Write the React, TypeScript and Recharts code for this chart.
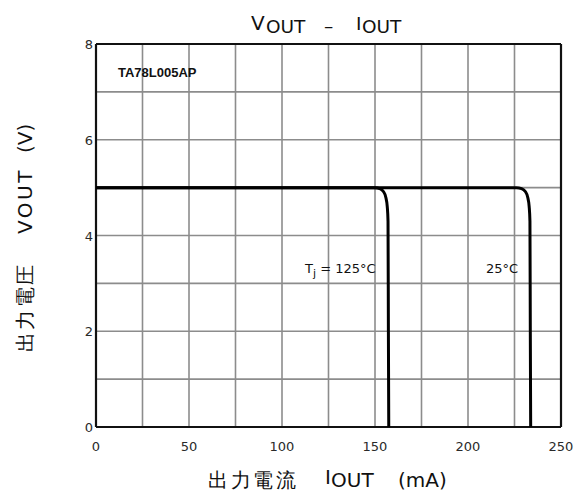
import React from 'react'
import { LineChart, Line, XAxis, YAxis, CartesianGrid, ReferenceLine } from 'recharts'

// Iout (mA) vs Vout (V)
const iout125 = [0, 100, 150, 152.5, 154.5, 155.8, 156.6, 157, 157.2, 157.4]
const vout125 = [5.0, 5.0, 5.0, 4.98, 4.92, 4.8, 4.6, 4.3, 2.0, 0]
const iout25 = [0, 150, 226, 228.8, 230.8, 232.1, 232.9, 233.3, 233.5, 233.7]
const vout25 = [5.0, 5.0, 5.0, 4.98, 4.92, 4.8, 4.6, 4.3, 2.0, 0]

const xTicks = [0, 25, 50, 75, 100, 125, 150, 175, 200, 225, 250]
const yTicks = [0, 1, 2, 3, 4, 5, 6, 7, 8]

const toPoints = (xs: number[], ys: number[]) => xs.map((x, i) => ({ x, y: ys[i] }))
const data125 = toPoints(iout125, vout125)
const data25 = toPoints(iout25, vout25)

const XTick = ({ x, y, payload }: any) =>
  payload.value % 50 === 0 ? (
    <text x={x} y={y + 16} textAnchor="middle" fontFamily="DejaVu Sans" fontSize={13} fill="#2a2a2a">
      {payload.value}
    </text>
  ) : null

const YTick = ({ x, y, payload }: any) =>
  payload.value % 2 === 0 ? (
    <text x={x + 5} y={y + 5} textAnchor="end" fontFamily="DejaVu Sans" fontSize={13} fill="#2a2a2a">
      {payload.value}
    </text>
  ) : null

const W = 578
const H = 495

export default function App() {
  return (
    <div style={{ position: 'absolute', left: 0, top: 0, width: W, height: H, overflow: 'hidden', background: '#fff' }}>
      <LineChart
        width={W}
        height={H}
        margin={{ top: 44, right: 17, bottom: 0, left: 0 }}
      >
        <CartesianGrid stroke="#8c8c8c" strokeWidth={1.6} />
        <XAxis
          type="number"
          dataKey="x"
          domain={[0, 250]}
          ticks={xTicks}
          height={68}
          axisLine={false}
          tickLine={false}
          tick={<XTick />}
          interval={0}
        />
        <YAxis
          type="number"
          dataKey="y"
          domain={[0, 8]}
          ticks={yTicks}
          width={96}
          axisLine={false}
          tickLine={false}
          tick={<YTick />}
          interval={0}
        />
        <ReferenceLine x={0} stroke="#111" strokeWidth={2.2} />
        <ReferenceLine x={250} stroke="#111" strokeWidth={2.2} />
        <ReferenceLine y={0} stroke="#111" strokeWidth={2.2} />
        <ReferenceLine y={8} stroke="#111" strokeWidth={2.2} />
        <Line
          data={data125}
          dataKey="y"
          type="monotone"
          stroke="#000"
          strokeWidth={3}
          dot={false}
          isAnimationActive={false}
        />
        <Line
          data={data25}
          dataKey="y"
          type="monotone"
          stroke="#000"
          strokeWidth={3}
          dot={false}
          isAnimationActive={false}
        />
      </LineChart>
      <svg
        width={W}
        height={H}
        style={{ position: 'absolute', left: 0, top: 0, pointerEvents: 'none' }}
      >
        <g fontFamily="DejaVu Sans" fill="#111">
          <text y={33} fontSize={18.5}>
            <tspan x={251} dy={-3} fontSize={20}>V</tspan>
            <tspan x={266} dy={3}>OUT</tspan>
            <tspan x={324} dy={-1}>–</tspan>
            <tspan x={356} dy={-2}>I</tspan>
            <tspan x={362} dy={3}>OUT</tspan>
          </text>
          <text x={118} y={77} fontSize={13} fontWeight="bold" fontFamily="Liberation Sans">
            TA78L005AP
          </text>
          <text x={305} y={273} fontSize={13}>
            <tspan>T</tspan>
            <tspan dy={4} fontSize={11}>j</tspan>
            <tspan dy={-4}> = 125°C</tspan>
          </text>
          <text x={486} y={273} fontSize={13}>25°C</text>
          <text transform="rotate(-90)" y={32} fontSize={20}>
            <tspan x={-352} letterSpacing={2.5}>出力電圧</tspan>
            <tspan x={-234} letterSpacing={2.5}>VOUT</tspan>
            <tspan x={-153}>(V)</tspan>
          </text>
          <text y={487} fontSize={20}>
            <tspan x={208} letterSpacing={2.5}>出力電流</tspan>
            <tspan x={325} dy={-3}>I</tspan>
            <tspan x={331} dy={3}>OUT</tspan>
            <tspan x={398}>(mA)</tspan>
          </text>
        </g>
      </svg>
    </div>
  )
}
